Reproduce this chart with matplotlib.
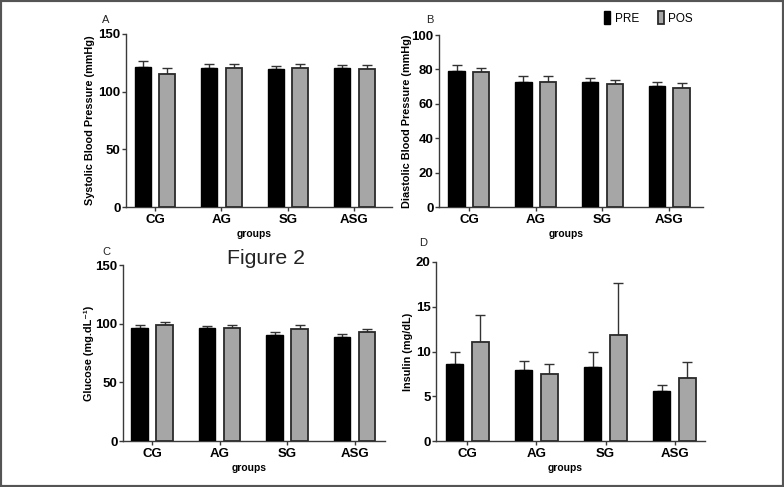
#! /usr/bin/env python3

import numpy as np
from matplotlib import pylab as plt
from matplotlib.patches import Rectangle, Patch

plt.rcParams['font.family'] = ['Liberation Sans', 'DejaVu Sans']

groups = ['CG', 'AG', 'SG', 'ASG']

sbp_pre = [121.7, 120.3, 119.4, 120.3]
sbp_pre_err = [4.9, 3.4, 2.6, 2.8]
sbp_pos = [115.4, 120.3, 120.3, 119.7]
sbp_pos_err = [5.5, 3.4, 3.4, 3.7]

dbp_pre = [79.1, 72.9, 72.9, 70.6]
dbp_pre_err = [3.5, 3.1, 2.3, 1.9]
dbp_pos = [78.3, 72.9, 71.4, 69.4]
dbp_pos_err = [2.4, 3.1, 2.3, 2.6]

glu_pre = [96.0, 96.0, 90.0, 88.9]
glu_pre_err = [2.6, 1.7, 2.9, 2.3]
glu_pos = [98.6, 96.6, 95.7, 92.6]
glu_pos_err = [3.1, 2.3, 3.1, 2.9]

ins_pre = [8.65, 7.9, 8.25, 5.55]
ins_pre_err = [1.25, 1.0, 1.75, 0.75]
ins_pos = [11.05, 7.45, 11.8, 7.0]
ins_pos_err = [3.0, 1.2, 5.8, 1.8]

W, H = 784, 487
AXCOL = '#3a3a3a'


def box(x0, y0, x1, y1):
    # pixel box (top-left origin) -> figure fraction
    return [x0 / W, 1 - y1 / H, (x1 - x0) / W, (y1 - y0) / H]


def panel(fig, rect, pre, pre_err, pos, pos_err, ymax, step, ylabel,
          xlim, ylab_px):
    ax = fig.add_axes(box(*rect))
    x = np.arange(len(groups))
    off, bw = 0.185, 0.245
    ax.bar(x - off, pre, bw, color='black', edgecolor='black', lw=1.0,
           zorder=3)
    ax.bar(x + off, pos, bw, color='#a6a6a6', edgecolor='#2a2a2a', lw=1.3,
           zorder=3)
    ax.errorbar(x - off, pre, yerr=[np.zeros(4), pre_err], fmt='none',
                ecolor='#333333', elinewidth=1.0, capsize=3.5, capthick=1.0,
                zorder=2)
    ax.errorbar(x + off, pos, yerr=[np.zeros(4), pos_err], fmt='none',
                ecolor='#333333', elinewidth=1.0, capsize=3.5, capthick=1.0,
                zorder=2)
    ax.set_xlim(*xlim)
    ax.set_ylim(0, ymax)
    ax.set_yticks(np.arange(0, ymax + step / 2, step))
    ax.set_xticks(x)
    ax.set_xticklabels(groups)
    for s in ['top', 'right']:
        ax.spines[s].set_visible(False)
    for s in ['left', 'bottom']:
        ax.spines[s].set_color(AXCOL)
        ax.spines[s].set_linewidth(1.0)
    ax.tick_params(axis='y', length=3, width=1, color=AXCOL, pad=1,
                   labelsize=9.5)
    ax.tick_params(axis='x', length=3, width=1, color=AXCOL, pad=2,
                   labelsize=9.5)
    for lab in ax.get_xticklabels() + ax.get_yticklabels():
        lab.set_fontweight('bold')
    wpx = rect[2] - rect[0]
    hpx = rect[3] - rect[1]
    ax.set_ylabel(ylabel, fontsize=7.8, fontweight='bold')
    ax.yaxis.set_label_coords(-ylab_px / wpx, 0.5)
    ax.set_xlabel('groups', fontsize=7.4, fontweight='bold')
    ax.xaxis.set_label_coords(0.48, -22 / hpx)
    return ax


fig = plt.figure(figsize=(W / 100, H / 100), dpi=100)

panel(fig, (126, 34, 392, 207), sbp_pre, sbp_pre_err, sbp_pos, sbp_pos_err,
      150, 50, 'Systolic Blood Pressure (mmHg)', (-0.436, 3.564), 31)
panel(fig, (439, 35, 703, 207), dbp_pre, dbp_pre_err, dbp_pos, dbp_pos_err,
      100, 20, 'Diastolic Blood Pressure (mmHg)', (-0.449, 3.507), 27)
panel(fig, (123, 265, 385, 441), glu_pre, glu_pre_err, glu_pos, glu_pos_err,
      150, 50, 'Glucose (mg.dL\u207b\u00b9)', (-0.43, 3.45), 29)
panel(fig, (436, 262, 705, 441), ins_pre, ins_pre_err, ins_pos, ins_pos_err,
      20, 5, 'Insulin (mg/dL)', (-0.455, 3.44), 23)

for letter, px, py in [('A', 106, 20), ('B', 430, 20), ('C', 106, 252),
                       ('D', 423, 243)]:
    fig.text(px / W, 1 - py / H, letter, fontsize=8, ha='center',
             va='center', color='#222222')

fig.text(266 / W, 1 - 259 / H, 'Figure 2', fontsize=15.3, ha='center',
         va='center', color='#222222')

handles = [Patch(facecolor='black', edgecolor='black', lw=1.0),
           Patch(facecolor='#a6a6a6', edgecolor='#2a2a2a', lw=1.3)]
fig.legend(handles, ['PRE', 'POS'], loc='center left',
           bbox_to_anchor=(604 / W, 1 - 18 / H), ncol=2, frameon=False,
           handlelength=0.55, handleheight=1.3, handletextpad=0.35,
           columnspacing=1.6, fontsize=8.5, borderpad=0, borderaxespad=0)

fig.patches.append(Rectangle((0, 0), 1, 1, transform=fig.transFigure,
                             fill=False, edgecolor='#555555', lw=3.0))

fig.savefig('out.png', dpi=100)
